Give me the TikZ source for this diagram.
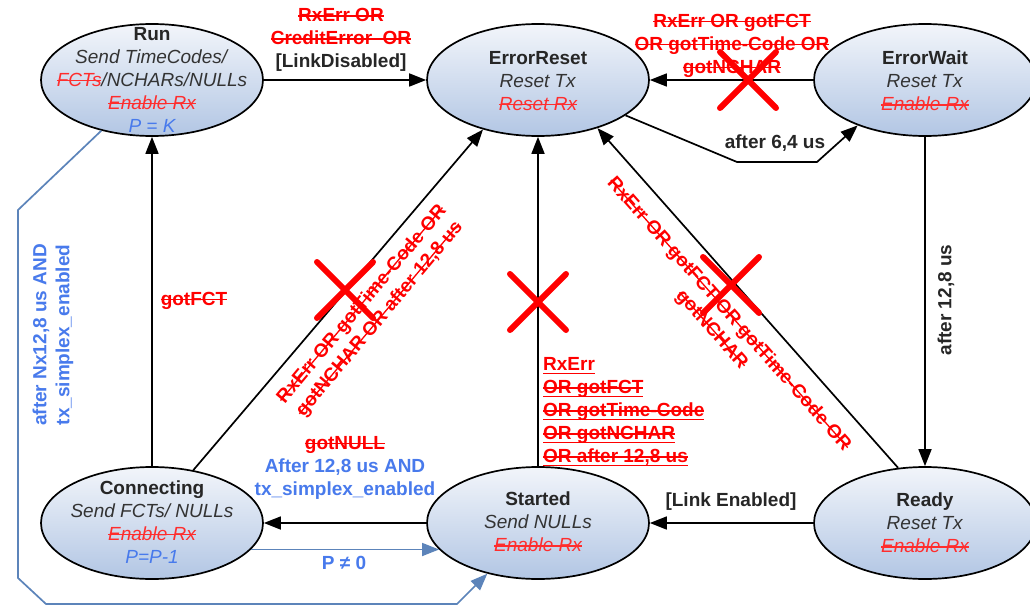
\documentclass[tikz,border=0pt]{standalone}
\usepackage{fontspec}
\setmainfont{Liberation Sans}
\usetikzlibrary{shapes.geometric,arrows.meta}

\definecolor{ink}{RGB}{38,38,38}
\definecolor{acttext}{RGB}{51,51,51}
\definecolor{cutred}{RGB}{255,0,0}
\definecolor{softred}{RGB}{255,45,45}
\definecolor{txtblue}{RGB}{72,122,236}
\definecolor{wireblue}{RGB}{92,132,186}
\definecolor{fillTop}{RGB}{242,245,250}
\definecolor{fillBot}{RGB}{178,198,228}

% struck-through, underlined, and struck+underlined text
\newsavebox\markbox
\newcommand\struck[1]{\sbox\markbox{#1}\rlap{\usebox\markbox}\rule[0.27em]{\wd\markbox}{1.3pt}}
\newcommand\underl[1]{\sbox\markbox{#1}\rlap{\usebox\markbox}\rule[-0.2em]{\wd\markbox}{1.5pt}}
\newcommand\strunder[1]{\sbox\markbox{#1}\rlap{\usebox\markbox}\rlap{\rule[0.27em]{\wd\markbox}{1.3pt}}\rule[-0.2em]{\wd\markbox}{1.5pt}}

\begin{document}
\begin{tikzpicture}[x=1pt,y=-1pt,
  state/.style={ellipse, draw=black, line width=1.7pt, top color=fillTop, bottom color=fillBot,
                minimum width=222pt, minimum height=112pt, inner sep=0pt},
  body/.style={align=center, font=\fontsize{19}{23}\selectfont, inner sep=0pt, text=acttext},
  lbl/.style={align=center, font=\fontsize{19}{23}\selectfont\bfseries, inner sep=0pt},
  wire/.style={line width=1.7pt, draw=black, -{Triangle[length=17pt,width=13pt]}},
  bluewire/.style={line width=1.7pt, draw=wireblue, -{Triangle[length=17pt,width=13pt,fill=wireblue]}},
  veto/.style={draw=cutred, line width=6pt, line cap=round}]

\useasboundingbox (0,0) rectangle (1030,607);
\fill[white] (0,0) rectangle (1030,607);

% states
\node[state] (run)     at (152,80)  {};
\node[state] (err)     at (538,80)  {};
\node[state] (ew)      at (925,80)  {};
\node[state] (conn)    at (152,523) {};
\node[state] (started) at (538,523) {};
\node[state] (ready)   at (925,523) {};

\node[body] (runtxt) at (152,80) {\textbf{\color{ink}Run}\\
  \textit{Send TimeCodes/}\\
  \textit{{\color{softred}\struck{FCTs}}/NCHARs/NULLs}\\
  \textit{\color{softred}\struck{Enable Rx}}\\
  \textit{\color{txtblue}P = K}};
\node[body] (errtxt) at (538,81) {\textbf{\color{ink}ErrorReset}\\
  \textit{Reset Tx}\\
  \textit{\color{softred}\struck{Reset Rx}}};
\node[body] (ewtxt) at (925,81) {\textbf{\color{ink}ErrorWait}\\
  \textit{Reset Tx}\\
  \textit{\color{softred}\struck{Enable Rx}}};
\node[body] (conntxt) at (152,522) {\textbf{\color{ink}Connecting}\\
  \textit{Send FCTs/ NULLs}\\
  \textit{\color{softred}\struck{Enable Rx}}\\
  \textit{\color{txtblue}P=P-1}};
\node[body] (starttxt) at (538,522) {\textbf{\color{ink}Started}\\
  \textit{Send NULLs}\\
  \textit{\color{softred}\struck{Enable Rx}}};
\node[body] (readytxt) at (925,523) {\textbf{\color{ink}Ready}\\
  \textit{Reset Tx}\\
  \textit{\color{softred}\struck{Enable Rx}}};

% transitions
\draw[wire] (run.east) -- (err.west);
\draw[wire] (ew.west) -- (err.east);
\draw[wire] (err.338) -- (737,162) -- (817,162) -- (ew.214);
\draw[wire] (ew) -- (ready);
\draw[wire] (ready) -- (started);
\draw[wire] (started) -- (conn);
\draw[bluewire] (conn.-15.5) -- (started.195.5);
\draw[wire] (conn) -- (run);
\draw[wire] (conn.52) -- (err.222);
\draw[wire] (started) -- (err);
\draw[wire] (ready.116) -- (err.321);
\draw[bluewire] (run.225) -- (18,210) -- (18,578) -- (46,604) -- (457,604) -- (started.225);

% transition labels
\node[lbl] (l1) at (341,40) {{\color{cutred}\struck{RxErr OR}}\\
  {\color{cutred}\struck{CreditError~ OR}}\\
  {\color{ink}[LinkDisabled]}};
\node[lbl, text=cutred] (l2) at (732,46) {\struck{RxErr OR gotFCT}\\
  \struck{OR gotTime-Code OR}\\
  \struck{gotNCHAR}};
\node[lbl, text=ink] (l3) at (775,143) {after 6,4 us};
\node[lbl, text=ink, rotate=90] (l4) at (946,300) {after 12,8 us};
\node[lbl, text=ink] (l5) at (731,502) {[Link Enabled]};
\node[lbl] (l6) at (345,468) {{\color{cutred}\struck{gotNULL}}\\
  {\color{txtblue}After 12,8 us AND}\\
  {\color{txtblue}tx\_simplex\_enabled}};
\node[lbl, text=txtblue] (l7) at (344,563) {P ≠ 0};
\node[lbl, text=cutred] (l8) at (194,301) {\struck{gotFCT}};
\node[lbl, text=cutred, align=left, anchor=west] (l9) at (543,412) {\underl{RxErr}\\
  \strunder{OR gotFCT}\\
  \strunder{OR gotTime-Code}\\
  \strunder{OR gotNCHAR}\\
  \strunder{OR after 12,8 us}};
\node[lbl, text=cutred, rotate=50] (l10) at (371,312) {\struck{RxErr OR gotTime-Code OR}\\
  \struck{gotNCHAR OR after 12,8 us}};
\node[lbl, text=cutred, rotate=-48.5] (l11) at (720,322) {\struck{RxErr OR gotFCT OR gotTime-Code OR}\\
  \struck{gotNCHAR}};
\node[lbl, text=txtblue, rotate=90] (l12) at (53,335) {after Nx12,8 us AND\\ tx\_simplex\_enabled};

% crossed-out transitions
\foreach \cx/\cy in {748/80, 345/290, 538/302, 731/285} {
  \draw[veto] (\cx-28,\cy-28) -- (\cx+28,\cy+28);
  \draw[veto] (\cx-28,\cy+28) -- (\cx+28,\cy-28);
}
\end{tikzpicture}
\end{document}
